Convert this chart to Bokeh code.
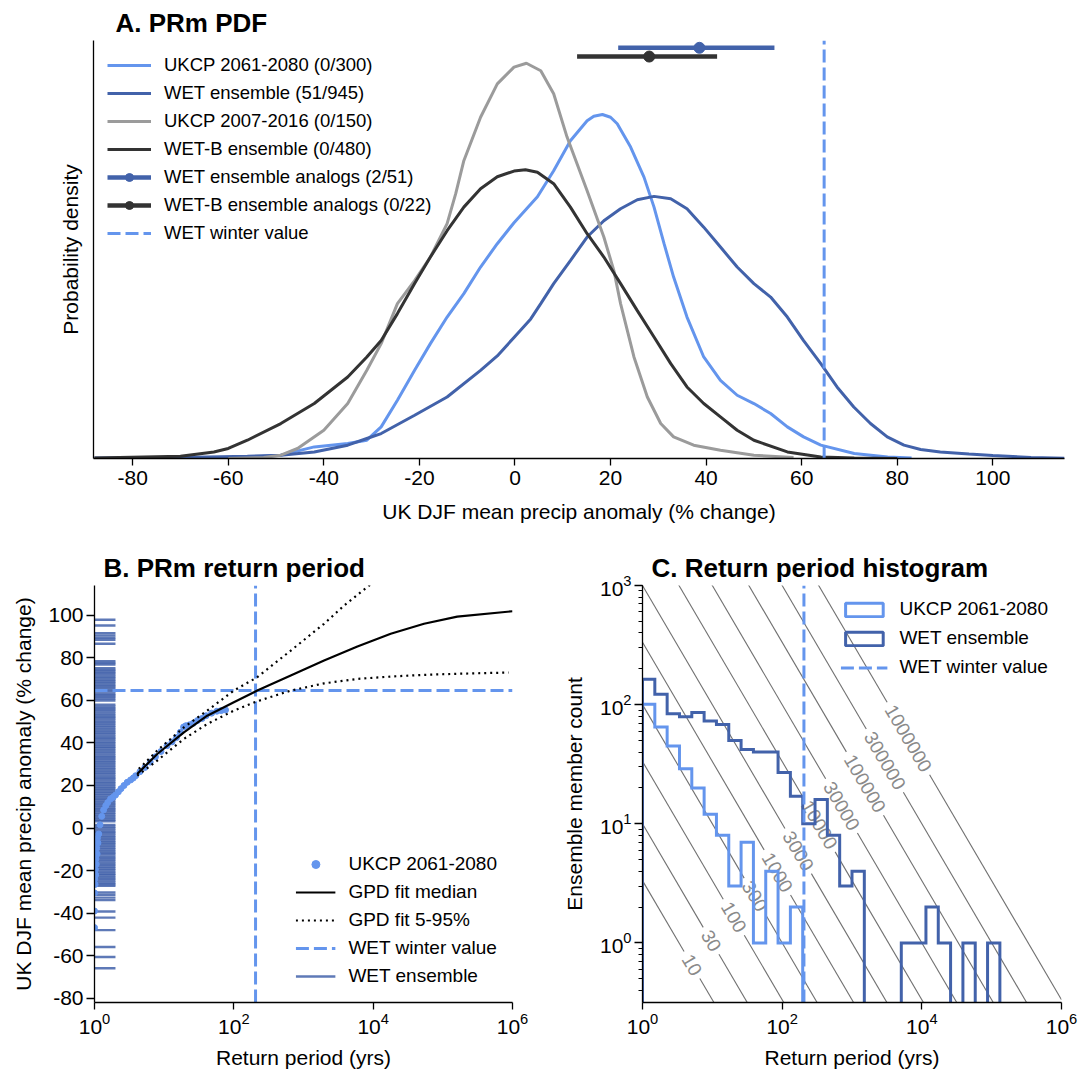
import math
import numpy as np
from bokeh.plotting import figure
from bokeh.models import (ColumnDataSource, Legend, LegendItem, FixedTicker, LogTicker)
from bokeh.layouts import column, row
from bokeh.embed import file_html
from bokeh.resources import INLINE
from bokeh.core.properties import value

FONT = "Liberation Sans"
LIGHT = "#6495ED"
DARK = "#4262AA"
GRAY = "#9B9B9B"
BLACK = "#333333"
CONTOUR_GRAY = "#707070"

# ---------------- Panel A : probability densities (units: 1e-3 per % change)
ukcp61_x = [-60, -56, -49, -42, -35, -31, -28, -24.6, -21, -17.7, -14.2, -10.7, -7.2, -3.7, -0.2,
            4.7, 8.1, 11.6, 15.1, 16.5, 18.3, 20.0, 21.4, 24.2, 27, 29.1, 31.2, 33.2, 36, 39.5, 43, 46.5,
            50, 53.5, 57, 60.4, 64, 71, 78, 83]
ukcp61_pdf = [0, 0.08, 0.27, 0.94, 1.21, 1.48, 2.56, 4.72, 7.14, 9.30, 11.45, 13.35, 15.50, 17.39, 19.09,
              21.19, 23.30, 25.72, 27.34, 27.71, 27.85, 27.63, 27.10, 25.21, 22.78, 20.35, 17.39, 14.69, 11.45,
              8.22, 6.33, 5.12, 4.45, 3.64, 2.56, 1.75, 1.08, 0.40, 0.13, 0.04]

wet_x = [-88, -70, -56, -49, -42, -35, -31, -28, -21, -14.2, -7.2, -3.7, -0.2, 3.3, 5.4, 8.1, 11.6,
         15.1, 18.6, 22.1, 25.6, 29.1, 32.6, 36, 39.5, 43, 46.5, 50, 53.5, 57, 60.4, 64, 67.4, 70.9,
         74.4, 77.9, 81.4, 84.9, 89, 95, 100, 108, 115]
wet_pdf = [0.04, 0.08, 0.19, 0.27, 0.53, 1.08, 1.62, 2.02, 3.50, 4.98, 7.14, 8.30, 9.80, 11.30, 12.54, 14.16, 16.02,
           17.93, 19.25, 20.22, 20.95, 21.22, 21.03, 20.22, 18.73, 17.12, 15.50, 14.16, 13.07, 11.45, 9.55, 7.68, 5.79, 4.17,
           2.83, 1.75, 1.08, 0.73, 0.53, 0.36, 0.24, 0.08, 0.02]

ukcp07_x = [-60, -52.6, -49, -45.5, -40, -35, -31, -28, -24.6, -21, -17.7, -14.2, -12.4, -10.7, -7.2, -3.7, -0.2,
            2.4, 5.4, 8.1, 10.9, 15.1, 18.6, 20.7, 22.1, 24.9, 27.7, 30.5, 33.2, 37.4, 43, 50, 58.3]
ukcp07_pdf = [0, 0.08, 0.27, 0.81, 2.29, 4.45, 7.14, 9.30, 12.54, 14.40, 16.31, 19.01, 21.44, 24.11, 27.63, 30.33,
              31.68, 32.00, 31.39, 29.53, 26.02, 21.68, 17.93, 15.21, 12.54, 8.22, 4.98, 2.83, 1.75, 1.08, 0.67,
              0.27, 0.08]

wetb_x = [-88, -70, -63, -60, -56, -49, -42, -35, -31, -28, -24.6, -21, -17.7, -14.2, -10.7, -7.2, -3.7, -0.2,
          2.2, 4.7, 8.1, 11.6, 15.1, 18.6, 22.1, 25.6, 29.1, 32.6, 36, 39.5, 43, 46.5, 50, 57, 64, 71, 80]
wetb_pdf = [0.04, 0.19, 0.53, 0.81, 1.48, 2.83, 4.45, 6.60, 8.22, 9.55, 11.73, 14.16, 16.31, 18.44, 20.35, 21.84,
            22.81, 23.27, 23.38, 23.18, 22.25, 20.35, 18.20, 16.31, 14.16, 11.97, 9.84, 7.68, 5.79, 4.45, 3.37,
            2.29, 1.48, 0.53, 0.13, 0.04, 0]

wet_analog_lo, wet_analog_med, wet_analog_hi = 21.6, 38.6, 54.3
wetb_analog_lo, wetb_analog_med, wetb_analog_hi = 13.0, 28.1, 42.3
wet_analog_level, wetb_analog_level = 33.25, 32.54   # vertical placement of analog bars

winter_value = 64.7
winter_return_period = 205

a_xticks = [-80, -60, -40, -20, 0, 20, 40, 60, 80, 100]

# ---------------- Panel B : return periods
wet_rug = [97.9, 95.2, 91.6, 90.5, 89.4, 88.5, 86.6,
           78.4, 77.6, 76.9, 75.1, 74.3, 73.6, 72.8, 72.1, 71.2, 70.5, 69.6, 68.9, 68.1, 67.2, 66.6, 65.8,
           64.9, 64.1, 63.2, 62.4, 61.7, 60.8, 59.9, 58.0, 57.2, 56.3, 55.6, 54.7, 53.9, 53.0, 52.2, 51.5,
           50.6, 49.8, 49.0, 48.1, 47.3, 46.5, 45.6, 44.8, 44.0, 43.1, 42.3, 41.6, 40.7, 39.9, 39.0, 38.2,
           37.5, 36.6, 35.8, 35.0, 34.1, 33.3, 32.6, 31.7, 30.9, 30.1, 29.2, 28.4, 27.7, 26.8, 26.0, 25.2,
           24.3, 23.5, 22.8, 21.9, 21.1, 20.3, 19.4, 18.6, 17.9, 17.0, 16.2, 15.4, 14.5, 13.7, 13.0, 12.1,
           11.3, 10.5, 9.6, 8.8, 8.1, 7.2, 6.4, 5.6, 4.7, 3.9, 3.2, 1.5, 0.6, -0.2, -1.1, -1.9, -2.6, -3.5,
           -4.3, -5.1, -6.0, -6.8, -7.5, -8.4, -9.2, -10.0, -10.9, -11.7, -12.4, -13.3, -14.1, -14.9, -15.8,
           -16.6, -17.3, -18.2, -19.0, -19.8, -20.7, -21.5, -22.2, -23.1, -23.9, -24.7, -25.6, -26.4, -27.1,
           -30.3, -31.4, -32.7, -33.9, -39.2, -42.1, -48.0, -55.9, -60.6, -65.9]

ukcp_rp = [1.00, 1.00, 1.00, 1.01, 1.02, 1.03, 1.04, 1.05, 1.06, 1.075, 1.09, 1.10, 1.12, 1.15, 1.20,
           1.27, 1.35, 1.45, 1.55, 1.70, 1.85, 2.0, 2.2, 2.4, 2.65, 2.95, 3.3, 3.6, 3.9, 4.5, 5.3, 6.3,
           7.5, 9.0, 11, 13, 15, 17, 19, 20.5, 23, 26, 30, 35, 40, 48, 57, 66, 76]
ukcp_val = [-46.8, -39.0, -30.5, -24.0, -26.5, -19.5, -22.0, -14.5, -17.0, -9.5, -12.2, -4.8, -7.0, -2.8, 1.5,
            5.5, 8.5, 10.5, 12.0, 13.7, 14.5, 15.5, 17.0, 18.5, 20.0, 21.5, 22.6, 23.5, 24.6, 26.5, 28.5, 31.0,
            33.5, 36.0, 38.7, 40.5, 42.5, 45.0, 47.5, 48.1, 48.5, 49.2, 50.5, 51.5, 52.8, 54.0, 54.9, 55.2, 55.5]

gpd_med_rp = [4.1, 7.95, 19.2, 41.5, 100, 217, 656, 1974, 5940, 17870, 53700, 161000, 1e6]
gpd_med = [25.4, 34.8, 45.0, 52.8, 59.1, 64.6, 71.7, 78.7, 85.3, 91.3, 96.0, 99.4, 101.9]
gpd_hi_rp = [4.33, 7.95, 19.2, 41.5, 100, 217, 656, 1974, 3830, 9200]
gpd_hi = [27.8, 36.4, 47.3, 55.2, 64.6, 70.9, 83.4, 96.0, 104.6, 114.5]
gpd_lo_rp = [4.1, 7.95, 19.2, 41.5, 100, 217, 656, 1974, 5940, 17870, 53700, 161000, 8.8e5]
gpd_lo = [24.6, 31.7, 41.9, 48.9, 55.2, 59.6, 64.6, 68.0, 70.1, 71.2, 72.0, 72.5, 73.1]

b_yticks = [-80, -60, -40, -20, 0, 20, 40, 60, 80, 100]
rp_ticks = [1, 100, 10000, 1000000]

# ---------------- Panel C : return period histogram
n_bins = 34                       # log-spaced bins, 10^0 .. 10^6
ukcp_counts = [101, 65, 45, 29, 20, 12, 8, 3, 7, 1, 4, 1, 2]
wet_counts = [163, 122, 84, 79, 86, 73, 68, 50, 42, 40, 40, 27, 17, 10, 16, 8, 3, 4, 0, 0, 0,
              1, 1, 2, 1, 0, 1, 0, 1]
contour_levels = [10, 30, 100, 300, 1000, 3000, 10000, 30000, 100000, 300000, 1000000]
contour_factor = 3                # contours of factor * count * return period
contour_label_log_rp = [0.708, 0.982, 1.307, 1.607, 1.931, 2.229, 2.531, 2.850, 3.185, 3.470, 3.807]

# ======================================================================
def style_axes(p, tick_size="21px"):
    for ax in p.axis:
        ax.axis_label_text_font = FONT
        ax.axis_label_text_font_size = "21px"
        ax.axis_label_text_font_style = "normal"
        ax.axis_label_text_color = "black"
        ax.major_label_text_font = FONT
        ax.major_label_text_font_size = tick_size
        ax.major_label_text_color = "black"
        ax.major_tick_in = 0
        ax.major_tick_out = 7
        ax.minor_tick_in = 0
        ax.minor_tick_out = 4
        ax.axis_line_width = 1.3
        ax.major_tick_line_width = 1.3
        ax.minor_tick_line_width = 1.0
        ax.axis_line_color = "black"
        ax.major_tick_line_color = "black"
        ax.minor_tick_line_color = "black"
    p.xgrid.visible = False
    p.ygrid.visible = False
    p.outline_line_color = None
    p.background_fill_color = "white"
    p.border_fill_color = "white"


def style_title(p, text, offset):
    p.title.text = text
    p.title.text_font = FONT
    p.title.text_font_size = "26px"
    p.title.text_font_style = "bold"
    p.title.text_color = "black"
    p.title.align = "left"
    p.title.offset = offset
    p.title.standoff = 5


def style_legend(lg, size):
    lg.label_text_font = FONT
    lg.label_text_font_size = size
    lg.label_text_color = "black"
    lg.background_fill_alpha = 0
    lg.border_line_color = None
    lg.padding = 0


# ---------------- Panel A
A_TOP = 33.84
pA = figure(width=1083, height=545, x_range=(-88.2, 115.0), y_range=(0, A_TOP),
            output_backend="svg", toolbar_location=None,
            min_border_left=93, min_border_right=19, min_border_top=40, min_border_bottom=87)
style_title(pA, "A. PRm PDF", 22)
r1 = pA.line(ukcp61_x, ukcp61_pdf, line_color=LIGHT, line_width=3)
r2 = pA.line(wet_x, wet_pdf, line_color=DARK, line_width=3)
r3 = pA.line(ukcp07_x, ukcp07_pdf, line_color=GRAY, line_width=3)
r4 = pA.line(wetb_x, wetb_pdf, line_color=BLACK, line_width=3)
r5a = pA.segment(x0=[wet_analog_lo], y0=[wet_analog_level], x1=[wet_analog_hi], y1=[wet_analog_level],
                 line_color=DARK, line_width=4.5)
r5b = pA.scatter([wet_analog_med], [wet_analog_level], size=11, marker="circle", color=DARK)
r6a = pA.segment(x0=[wetb_analog_lo], y0=[wetb_analog_level], x1=[wetb_analog_hi], y1=[wetb_analog_level],
                 line_color=BLACK, line_width=4.5)
r6b = pA.scatter([wetb_analog_med], [wetb_analog_level], size=11, marker="circle", color=BLACK)
r7 = pA.line([winter_value, winter_value], [0, A_TOP], line_color=LIGHT, line_width=3, line_dash="13 5")
pA.xaxis.ticker = FixedTicker(ticks=a_xticks)
pA.xaxis.major_label_overrides = {t: str(t) for t in a_xticks}
pA.yaxis.ticker = FixedTicker(ticks=[])
pA.xaxis.axis_label = "UK DJF mean precip anomaly (% change)"
pA.yaxis.axis_label = "Probability density"
style_axes(pA)
pA.xaxis.major_label_standoff = 5
pA.xaxis.axis_label_standoff = 12
pA.yaxis.axis_label_standoff = 12
legA = Legend(items=[
    LegendItem(label="UKCP 2061-2080 (0/300)", renderers=[r1]),
    LegendItem(label="WET ensemble (51/945)", renderers=[r2]),
    LegendItem(label="UKCP 2007-2016 (0/150)", renderers=[r3]),
    LegendItem(label="WET-B ensemble (0/480)", renderers=[r4]),
    LegendItem(label="WET ensemble analogs (2/51)", renderers=[r5a, r5b]),
    LegendItem(label="WET-B ensemble analogs (0/22)", renderers=[r6a, r6b]),
    LegendItem(label="WET winter value", renderers=[r7]),
], location="top_left", margin=14, spacing=6, glyph_width=44, glyph_height=20,
    label_height=20, label_standoff=13)
style_legend(legA, "18.5px")
pA.add_layout(legA)

# ---------------- Panel B
pB = figure(width=558, height=527, x_axis_type="log", x_range=(1, 1e6), y_range=(-82, 114),
            output_backend="svg", toolbar_location=None,
            min_border_left=94, min_border_right=46, min_border_top=40, min_border_bottom=70)
style_title(pB, "B. PRm return period", 9)
rb_rug = pB.segment(x0=1, y0=wet_rug, x1=2, y1=wet_rug, line_color=DARK, line_width=2.4, line_alpha=0.85)
rb_h = pB.line([1, 1e6], [winter_value, winter_value], line_color=LIGHT, line_width=3, line_dash="13 5")
rb_v = pB.line([winter_return_period, winter_return_period], [-82, 114], line_color=LIGHT, line_width=3,
               line_dash="13 5")
rb_dots = pB.scatter(ukcp_rp, ukcp_val, size=6, marker="circle", color=LIGHT)
rb_med = pB.line(gpd_med_rp, gpd_med, line_color="black", line_width=2.2)
rb_hi = pB.line(gpd_hi_rp, gpd_hi, line_color="black", line_width=2.2, line_dash=[2, 4])
pB.line(gpd_lo_rp, gpd_lo, line_color="black", line_width=2.2, line_dash=[2, 4])
pB.xaxis.ticker = FixedTicker(ticks=rp_ticks, minor_ticks=[])
pB.yaxis.ticker = FixedTicker(ticks=b_yticks)
pB.yaxis.major_label_overrides = {t: str(t) for t in b_yticks}
pB.xaxis.axis_label = "Return period (yrs)"
pB.yaxis.axis_label = "UK DJF mean precip anomaly (% change)"
style_axes(pB)
pB.yaxis.major_tick_out = 8
pB.yaxis.major_label_standoff = 3
pB.xaxis.major_label_standoff = 3
pB.xaxis.axis_label_standoff = 9
pB.yaxis.axis_label_standoff = 10
legB = Legend(items=[
    LegendItem(label="UKCP 2061-2080", renderers=[rb_dots]),
    LegendItem(label="GPD fit median", renderers=[rb_med]),
    LegendItem(label="GPD fit 5-95%", renderers=[rb_hi]),
    LegendItem(label="WET winter value", renderers=[rb_h]),
    LegendItem(label="WET ensemble", renderers=[rb_rug]),
], location="bottom_right", margin=15, spacing=6, glyph_width=40, glyph_height=20,
    label_height=20, label_standoff=13)
style_legend(legB, "19px")
pB.add_layout(legB)

# ---------------- Panel C
C_YMIN, C_YMAX = 10 ** -0.5, 1000
pC = figure(width=525, height=527, x_axis_type="log", y_axis_type="log", x_range=(1, 1e6),
            y_range=(C_YMIN, C_YMAX), output_backend="svg", toolbar_location=None,
            min_border_left=84, min_border_right=22, min_border_top=40, min_border_bottom=70)
style_title(pC, "C. Return period histogram", 9)

# contour lines with gaps for inline labels
frame_w, frame_h = 419.0, 417.0
px_per_dec_x = frame_w / 6.0
px_per_dec_y = frame_h / (math.log10(C_YMAX) - math.log10(C_YMIN))
theta = math.atan2(px_per_dec_y, px_per_dec_x)
label_fs = 19
c_xs, c_ys, lab_x, lab_y, lab_t = [], [], [], [], []
for L, lx in zip(contour_levels, contour_label_log_rp):
    txt = str(L)
    half_px = len(txt) * 0.556 * label_fs / 2 + 5
    dlx = half_px * math.cos(theta) / px_per_dec_x
    xa, xb = 10 ** (lx - dlx), 10 ** (lx + dlx)
    for x0, x1 in [(1.0, xa), (xb, 1e6)]:
        c_xs.append([x0, x1])
        c_ys.append([L / (contour_factor * x0), L / (contour_factor * x1)])
    xl = 10 ** lx
    lab_x.append(xl)
    lab_y.append(L / (contour_factor * xl))
    lab_t.append(txt)
pC.multi_line(c_xs, c_ys, line_color=CONTOUR_GRAY, line_width=1.1)
pC.text(x=lab_x, y=lab_y, text=lab_t, angle=-theta, text_align="center", text_baseline="middle",
        text_font=value(FONT), text_font_size=value(f"{label_fs}px"), text_color="#8A8A8A")

edges = np.logspace(0, 6, n_bins + 1)


def step_path(counts, floor=1e-3):
    xs, ys = [edges[0]], [floor]
    for i, n in enumerate(counts):
        v = n if n > 0 else floor
        xs += [edges[i], edges[i + 1]]
        ys += [v, v]
    xs.append(edges[len(counts)])
    ys.append(floor)
    return xs, ys


ux, uy = step_path(ukcp_counts)
wx, wy = step_path(wet_counts)
pC.line(ux, uy, line_color=LIGHT, line_width=3, line_join="miter")
pC.line(wx, wy, line_color=DARK, line_width=3, line_join="miter")
rc_v = pC.line([winter_return_period, winter_return_period], [C_YMIN, C_YMAX], line_color=LIGHT,
               line_width=3, line_dash="13 5")
nan_box = dict(left=[float("nan")], right=[float("nan")], top=[float("nan")], bottom=[float("nan")])
rc_u = pC.quad(source=ColumnDataSource(nan_box), left="left", right="right", top="top", bottom="bottom",
               fill_alpha=0, line_color=LIGHT, line_width=3)
rc_w = pC.quad(source=ColumnDataSource(dict(nan_box)), left="left", right="right", top="top", bottom="bottom",
               fill_alpha=0, line_color=DARK, line_width=3)
pC.xaxis.ticker = FixedTicker(ticks=rp_ticks, minor_ticks=[])
pC.yaxis.ticker = LogTicker(num_minor_ticks=10)
pC.xaxis.axis_label = "Return period (yrs)"
pC.yaxis.axis_label = "Ensemble member count"
style_axes(pC)
pC.yaxis.major_tick_out = 8
pC.yaxis.major_label_standoff = 3
pC.xaxis.major_label_standoff = 3
pC.xaxis.axis_label_standoff = 9
pC.yaxis.axis_label_standoff = 11
legC = Legend(items=[
    LegendItem(label="UKCP 2061-2080", renderers=[rc_u]),
    LegendItem(label="WET ensemble", renderers=[rc_w]),
    LegendItem(label="WET winter value", renderers=[rc_v]),
], location="top_right", margin=13, spacing=7, glyph_width=47, glyph_height=17,
    label_height=20, label_standoff=12)
style_legend(legC, "19px")
pC.add_layout(legC)

layout = column(pA, row(pB, pC))
open("out.html", "w").write(file_html(layout, INLINE))
